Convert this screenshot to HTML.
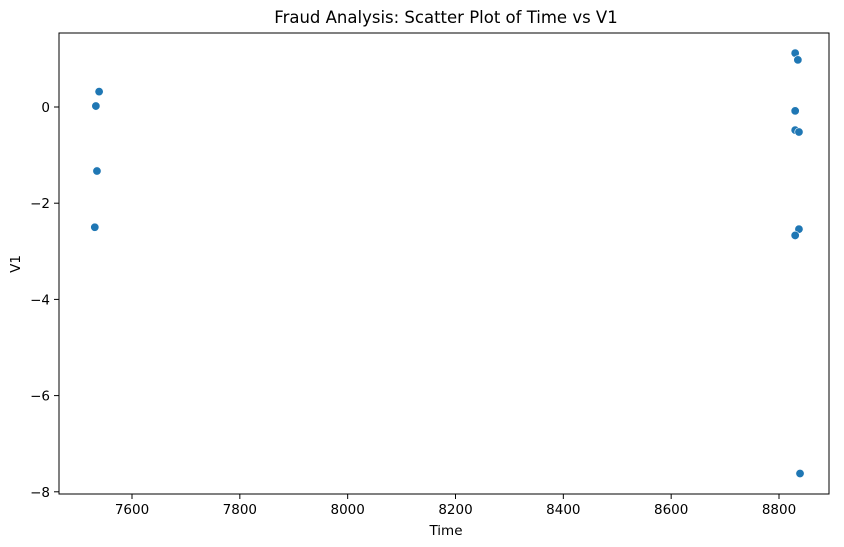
<!DOCTYPE html>
<html><head><meta charset="utf-8"><style>
body{margin:0;background:#fff;}
svg{display:block;font-family:"DejaVu Sans","Liberation Sans",sans-serif;}
</style></head><body>
<svg id="chart" width="844" height="547">
<text x="446" y="23" font-size="16.5" text-anchor="middle">Fraud Analysis: Scatter Plot of Time vs V1</text>
<g id="axes"></g>
<g id="points"></g>
<rect x="59" y="33" width="770" height="461" fill="none" stroke="#000" stroke-width="1"/>
<text x="446" y="535" font-size="13.5" text-anchor="middle">Time</text>
<text x="0" y="0" font-size="13.5" text-anchor="middle" transform="translate(20,264) rotate(-90)">V1</text>
</svg>
<script>
const times = [7533, 7539, 7535, 7531, 8830, 8835, 8830, 8830, 8837, 8837, 8830, 8839];
const v1 = [0.02, 0.32, -1.33, -2.5, 1.12, 0.98, -0.08, -0.48, -0.52, -2.54, -2.67, -7.62];
const xTicks = [7600, 7800, 8000, 8200, 8400, 8600, 8800];
const yTicks = [0, -2, -4, -6, -8];
const yTickLabels = ["0", "\u22122", "\u22124", "\u22126", "\u22128"];

const NS = "http://www.w3.org/2000/svg";
function xs(t){ return 132 + (t - 7600) * (647 / 1200); }
function ys(v){ return 107 - v * 48.1; }
const axes = document.getElementById('axes');
const pts = document.getElementById('points');
xTicks.forEach(t => {
  const x = xs(t);
  const l = document.createElementNS(NS, 'line');
  l.setAttribute('x1', x); l.setAttribute('x2', x); l.setAttribute('y1', 494); l.setAttribute('y2', 499);
  l.setAttribute('stroke', '#000');
  
  
  axes.appendChild(l);
  const tx = document.createElementNS(NS, 'text');
  tx.setAttribute('x', x); tx.setAttribute('y', 514); tx.setAttribute('font-size', '13.5'); tx.setAttribute('text-anchor', 'middle');
  tx.textContent = t;
  
  
  axes.appendChild(tx);
});
yTicks.forEach((v, i) => {
  const y = ys(v);
  const l = document.createElementNS(NS, 'line');
  l.setAttribute('x1', 54); l.setAttribute('x2', 59); l.setAttribute('y1', y); l.setAttribute('y2', y);
  l.setAttribute('stroke', '#000');
  
  
  axes.appendChild(l);
  const tx = document.createElementNS(NS, 'text');
  tx.setAttribute('x', 50); tx.setAttribute('y', y + 5); tx.setAttribute('font-size', '13.5'); tx.setAttribute('text-anchor', 'end');
  tx.textContent = yTickLabels[i];
  
  
  axes.appendChild(tx);
});
times.forEach((t, i) => {
  const c = document.createElementNS(NS, 'circle');
  c.setAttribute('cx', xs(t)); c.setAttribute('cy', ys(v1[i])); c.setAttribute('r', 4.2);
  c.setAttribute('fill', '#1f77b4'); c.setAttribute('stroke', '#fff'); c.setAttribute('stroke-width', '0.6');
  
  
  pts.appendChild(c);
});
</script>
</body></html>
